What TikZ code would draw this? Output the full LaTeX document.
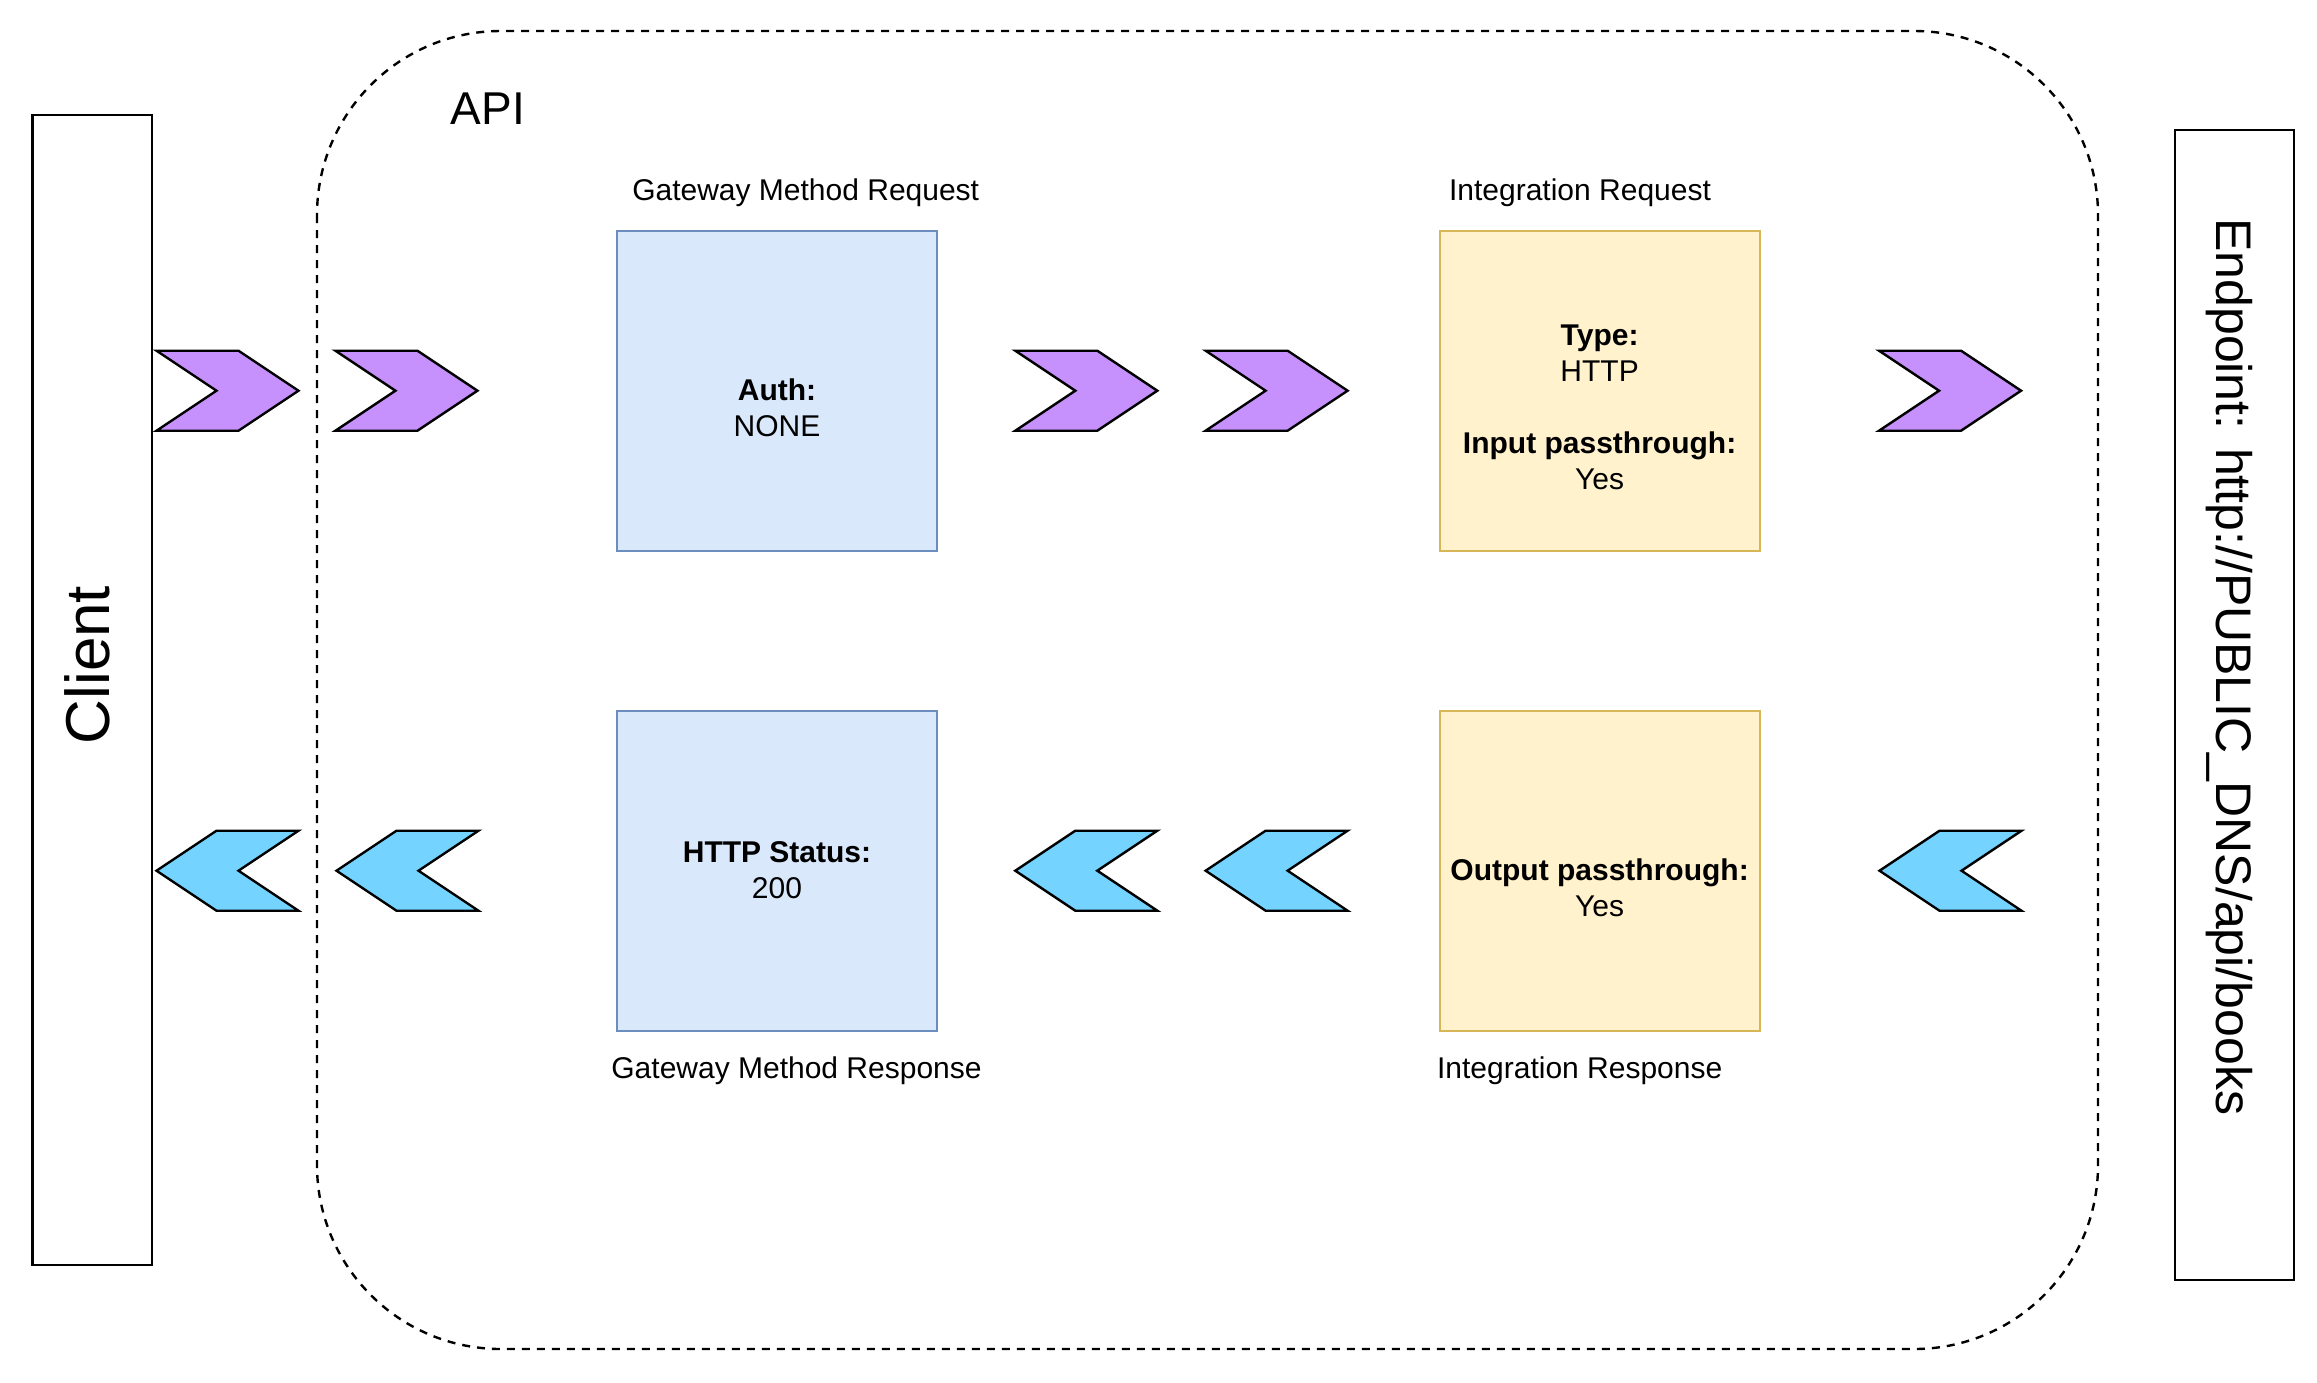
\documentclass[tikz,border=0pt]{standalone}
\usepackage{fontspec}
\setmainfont{Liberation Sans}
\definecolor{chevpurple}{RGB}{198,145,252}
\definecolor{chevblue}{RGB}{116,211,255}
\definecolor{bluefill}{HTML}{DAE8FC}
\definecolor{bluestroke}{HTML}{6C8EBF}
\definecolor{yelfill}{HTML}{FFF2CC}
\definecolor{yelstroke}{HTML}{D6B656}
\tikzset{
  sidebox/.style={draw=black, line width=2.4pt, fill=white, minimum width=119.5pt, minimum height=1150pt, inner sep=0pt},
  bluebox/.style={draw=bluestroke, fill=bluefill, line width=2.2pt, minimum width=320pt, minimum height=320pt, inner sep=0pt},
  yelbox/.style={draw=yelstroke, fill=yelfill, line width=2.2pt, minimum width=320pt, minimum height=320pt, inner sep=0pt},
  small/.style={font=\fontsize{30}{36}\selectfont, anchor=base, inner sep=0pt},
  smallb/.style={font=\fontsize{30}{36}\selectfont\bfseries, anchor=base, inner sep=0pt},
  chev/.style={draw=black, line width=2.4pt, line join=miter},
}
\newcommand{\chevR}[3]{\draw[chev, fill=#3] (#1,#2) -- ++(82,0) -- ++(60,40) -- ++(-60,40) -- ++(-82,0) -- ++(60,-40) -- cycle;}
\newcommand{\chevL}[3]{\draw[chev, fill=#3] (#1,#2+40) -- ++(60,-40) -- ++(82,0) -- ++(-60,40) -- ++(60,40) -- ++(-82,0) -- cycle;}
\begin{document}
\begin{tikzpicture}[x=1pt, y=-1pt]
\useasboundingbox (0,0) rectangle (2317,1382);
\fill[white] (0,0) rectangle (2317,1382);

% API container
\draw[line width=2.4pt, dash pattern=on 8pt off 7pt, rounded corners=184pt] (317,31) rectangle (2098,1349);
\node[font=\fontsize{46}{55}\selectfont, anchor=base, inner sep=0pt] (api) at (488,124) {API};

% side boxes
\node[sidebox] (client) at (92.2,690) {};
\node[font=\fontsize{62}{74}\selectfont, anchor=base, inner sep=0pt, rotate=90] (clientlbl) at (109,665) {Client};
\node[sidebox] (endpoint) at (2234.5,705) {};
\node[font=\fontsize{50}{60}\selectfont, anchor=base, inner sep=0pt, rotate=-90] (endpointlbl) at (2216.7,666.7) {Endpoint: http://PUBLIC\_DNS/api/books};

% boxes
\node[bluebox] (gmreq) at (777,390.7) {};
\node[yelbox] (intreq) at (1599.6,390.7) {};
\node[bluebox] (gmresp) at (777,870.7) {};
\node[yelbox] (intresp) at (1599.6,870.7) {};

% box labels
\node[small] (lgmreq) at (805.7,200.6) {Gateway Method Request};
\node[small] (lintreq) at (1580,200.6) {Integration Request};
\node[small] (lgmresp) at (796.5,1078.6) {Gateway Method Response};
\node[small] (lintresp) at (1579.7,1078.6) {Integration Response};

% box texts
\node[smallb] (auth) at (777,400.6) {Auth:};
\node[small] (none) at (777,436) {NONE};
\node[smallb] (type) at (1599.6,345.6) {Type:};
\node[small] (http) at (1599.6,381.6) {HTTP};
\node[smallb] (inpt) at (1599.6,453.6) {Input passthrough:};
\node[small] (yes1) at (1599.6,489.6) {Yes};
\node[smallb] (status) at (777,862.8) {HTTP Status:};
\node[small] (code) at (777,898.8) {200};
\node[smallb] (outp) at (1599.6,880.2) {Output passthrough:};
\node[small] (yes2) at (1599.6,916.2) {Yes};

% chevrons (request)
\chevR{156.5}{350.7}{chevpurple}
\chevR{335.4}{350.7}{chevpurple}
\chevR{1015.3}{350.7}{chevpurple}
\chevR{1205.6}{350.7}{chevpurple}
\chevR{1879}{350.7}{chevpurple}
% chevrons (response)
\chevL{156.5}{830.7}{chevblue}
\chevL{336.5}{830.7}{chevblue}
\chevL{1015.3}{830.7}{chevblue}
\chevL{1205.6}{830.7}{chevblue}
\chevL{1879.5}{830.7}{chevblue}
\end{tikzpicture}
\end{document}
